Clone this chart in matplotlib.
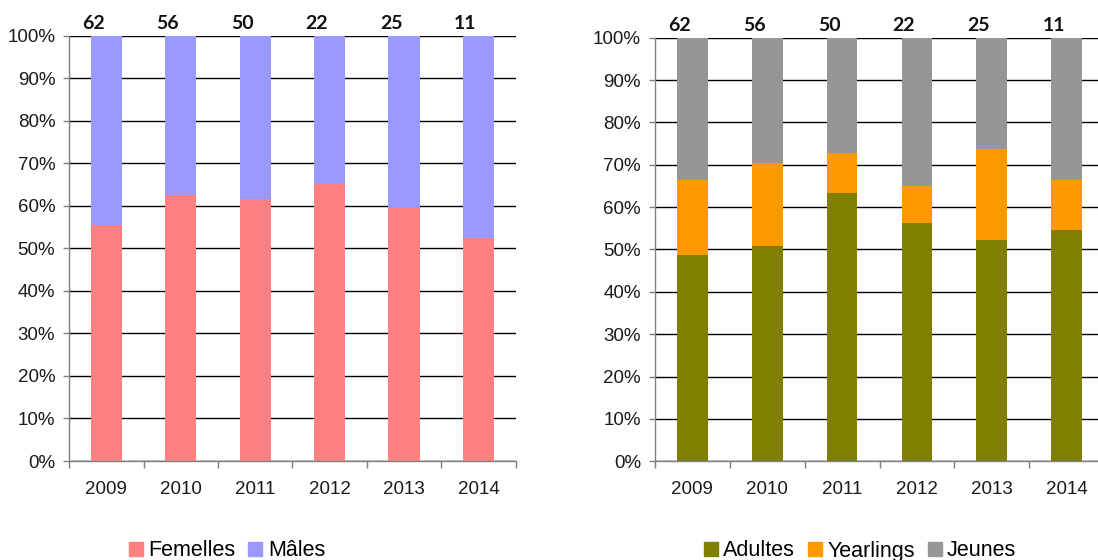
import matplotlib
matplotlib.use("Agg")
import matplotlib.pyplot as plt
from matplotlib.patches import Patch
import numpy as np

years = ["2009", "2010", "2011", "2012", "2013", "2014"]
totals = [62, 56, 50, 22, 25, 11]

# Left chart: sex ratio (%)
femelles = [55.4, 62.5, 61.5, 65.2, 59.6, 52.5]
males = [44.6, 37.5, 38.5, 34.8, 40.4, 47.5]

# Right chart: age classes (%)
adultes = [48.7, 50.8, 63.4, 56.3, 52.2, 54.6]
yearlings = [17.8, 19.6, 9.4, 8.8, 21.5, 11.9]
jeunes = [33.5, 29.6, 27.2, 34.9, 26.3, 33.5]

C_FEM = "#FF8080"
C_MAL = "#9999FF"
C_ADU = "#808000"
C_YEA = "#FF9900"
C_JEU = "#969696"

plt.rcParams["font.family"] = ["Liberation Sans", "DejaVu Sans"]

W, H = 1098, 560
fig = plt.figure(figsize=(W / 100, H / 100), dpi=100)

def px_axes(x0, x1, ytop, ybot):
    return fig.add_axes([x0 / W, 1 - ybot / H, (x1 - x0) / W, (ybot - ytop) / H])

ax1 = px_axes(69.2, 515.7, 35.7, 461.0)
ax2 = px_axes(655.0, 1104.0, 37.7, 461.3)

def style(ax):
    x = np.arange(len(years))
    ax.set_xlim(-0.5, len(years) - 0.5)
    ax.set_ylim(0, 100)
    ax.set_yticks(np.arange(0, 101, 10))
    ax.set_yticklabels([f"{v}%" for v in range(0, 101, 10)], fontsize=13.5, color="#1a1a1a")
    ax.yaxis.grid(True, color="#000000", linewidth=1.0)
    ax.set_axisbelow(True)
    ax.set_xticks(np.arange(-0.5, len(years)), minor=False)
    ax.set_xticklabels([])
    ax.set_xticks(x, minor=True)
    ax.set_xticklabels(years, minor=True, fontsize=13.5, color="#1a1a1a")
    ax.tick_params(axis="x", which="major", length=5, width=1, color="#808080", direction="out")
    ax.tick_params(axis="x", which="minor", length=0, pad=14.5)
    ax.tick_params(axis="y", length=4, width=1, color="#808080", direction="out", pad=6)
    for s in ["top", "right"]:
        ax.spines[s].set_visible(False)
    for s in ["left", "bottom"]:
        ax.spines[s].set_color("#808080")
        ax.spines[s].set_linewidth(1.0)
    for i, t in enumerate(totals):
        ax.annotate(str(t), xy=(i, 100), xytext=(-13, 12.5), textcoords="offset pixels",
                    ha="center", va="center", fontsize=14, fontweight="bold",
                    family=["Lato", "DejaVu Sans"], color="#111111", annotation_clip=False)

x = np.arange(len(years))
ax1.bar(x, femelles, width=0.42, color=C_FEM, zorder=2)
ax1.bar(x, males, width=0.42, bottom=femelles, color=C_MAL, zorder=2)
style(ax1)

b2 = np.array(adultes) + np.array(yearlings)
ax2.bar(x, adultes, width=0.41, color=C_ADU, zorder=2)
ax2.bar(x, yearlings, width=0.41, bottom=adultes, color=C_YEA, zorder=2)
ax2.bar(x, jeunes, width=0.41, bottom=b2, color=C_JEU, zorder=2)
style(ax2)

leg_kw = dict(loc="center", ncol=3, frameon=False, fontsize=15.5,
              handlelength=0.65, handleheight=0.65, handletextpad=0.25,
              columnspacing=0.6, borderpad=0, borderaxespad=0)
fig.legend([Patch(color=C_FEM), Patch(color=C_MAL)], ["Femelles", "Mâles"],
           bbox_to_anchor=(227 / W, 1 - 551 / H), **leg_kw)
fig.legend([Patch(color=C_ADU), Patch(color=C_YEA), Patch(color=C_JEU)],
           ["Adultes", "Yearlings", "Jeunes"],
           bbox_to_anchor=(860 / W, 1 - 551 / H), **leg_kw)

fig.savefig("out.png", dpi=100)
